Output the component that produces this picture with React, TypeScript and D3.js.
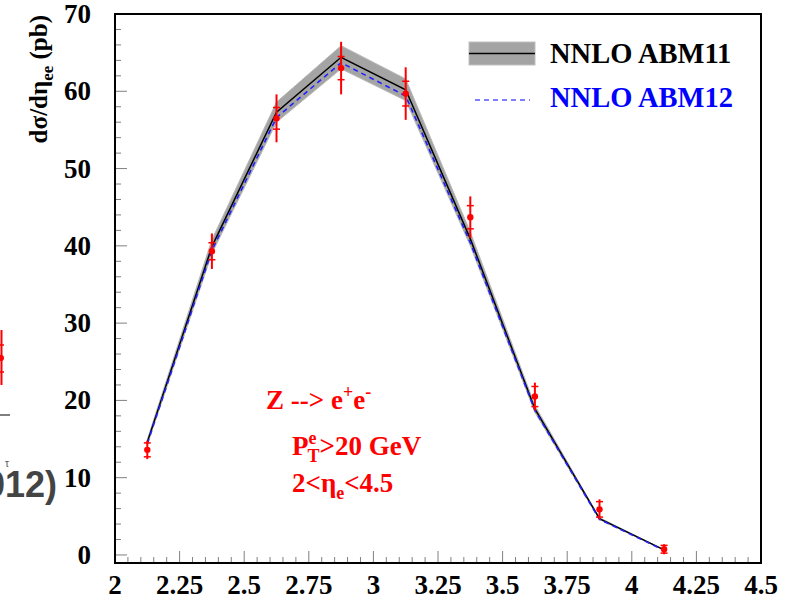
import React from "react";
import * as d3 from "d3";

const etaCenters = [2.125, 2.375, 2.625, 2.875, 3.125, 3.375, 3.625, 3.875, 4.125];
const abm11 = [14.6, 39.9, 57.3, 64.4, 60.2, 40.9, 18.9, 4.7, 0.65];
const abm11Err = [0.35, 0.9, 1.3, 1.5, 1.4, 0.9, 0.45, 0.12, 0.03];
const abm12 = [14.4, 39.4, 56.6, 63.7, 59.4, 40.4, 18.7, 4.6, 0.6];
const dataVals = [13.6, 39.3, 56.5, 63.0, 59.7, 43.7, 20.5, 5.9, 0.74];
const statErr = [0.9, 1.1, 1.4, 1.5, 1.6, 1.5, 1.3, 1.0, 0.5];
const totErr = [1.2, 2.3, 3.1, 3.4, 3.4, 2.7, 1.8, 1.3, 0.65];
const xTickLabels = ["2", "2.25", "2.5", "2.75", "3", "3.25", "3.5", "3.75", "4", "4.25", "4.5"];
const yTickLabels = ["0", "10", "20", "30", "40", "50", "60", "70"];

const FL = 115, FR = 761, FT = 14, FB = 563;
const serif = "'Liberation Serif', 'Times New Roman', serif";

export default function App() {
  const x = d3.scaleLinear().domain([2, 4.5]).range([FL, FR]);
  const y = d3.scaleLinear().domain([-1.04, 70]).range([FB, FT]);

  const line = d3.line<number>().x((_, i) => x(etaCenters[i])).y((d) => y(d));
  const area = d3
    .area<number>()
    .x((_, i) => x(etaCenters[i]))
    .y0((d, i) => y(d - abm11Err[i]))
    .y1((d, i) => y(d + abm11Err[i]));

  const xMinor = d3.range(0, 51).map((i) => 2 + i * 0.05);
  const yMinor = d3.range(0, 36).map((i) => i * 2);

  return (
    <svg width={794} height={602} style={{ position: "absolute", left: 0, top: 0, background: "#fff" }}>
      {/* fragments of neighbouring figure at left edge */}
      <g>
        <line x1={1.5} x2={1.5} y1={330} y2={385} stroke="#ff0000" strokeWidth={2} />
        <line x1={-2} x2={4} y1={345} y2={345} stroke="#ff0000" strokeWidth={1.5} />
        <line x1={-2} x2={4} y1={372} y2={372} stroke="#ff0000" strokeWidth={1.5} />
        <circle cx={1} cy={358} r={3} fill="#ff0000" />
        <line x1={0} x2={10} y1={415} y2={415} stroke="#555" strokeWidth={1.5} />
        <text x={57} y={497} textAnchor="end" fontFamily="'Liberation Sans', Arial, sans-serif" fontWeight="bold" fontSize={36} fill="#444">(2012)</text>
        <text x={5} y={467} fontFamily="'Liberation Sans', Arial, sans-serif" fontSize={10} fill="#555">τ</text>
      </g>

      {/* ticks */}
      <g stroke="#808080" strokeWidth={1}>
        {xMinor.map((v, i) => {
          const major = i % 5 === 0;
          return <line key={"xt" + i} x1={x(v)} x2={x(v)} y1={FB} y2={FB - (major ? 12 : 6)} />;
        })}
        {yMinor.map((v, i) => {
          const major = i % 5 === 0;
          return <line key={"yt" + i} x1={FL} x2={FL + (major ? 12 : 6)} y1={y(v)} y2={y(v)} />;
        })}
      </g>

      {/* band */}
      <path d={area(abm11) || ""} fill="#a4a4a4" stroke="#b8b8b8" strokeWidth={1} />
      <path d={line(abm11) || ""} fill="none" stroke="#000" strokeWidth={1.5} />
      <path d={line(abm12) || ""} fill="none" stroke="#2222ff" strokeWidth={1.6} strokeDasharray="5,4" />

      {/* data */}
      <g stroke="#ff0000" fill="#ff0000">
        {dataVals.map((v, i) => {
          const cx = x(etaCenters[i]);
          return (
            <g key={"d" + i}>
              <line x1={cx} x2={cx} y1={y(v - totErr[i])} y2={y(v + totErr[i])} strokeWidth={2} />
              <line x1={cx - 3.5} x2={cx + 3.5} y1={y(v - statErr[i])} y2={y(v - statErr[i])} strokeWidth={1.5} />
              <line x1={cx - 3.5} x2={cx + 3.5} y1={y(v + statErr[i])} y2={y(v + statErr[i])} strokeWidth={1.5} />
              <circle cx={cx} cy={y(v)} r={3.2} stroke="none" />
            </g>
          );
        })}
      </g>

      {/* frame */}
      <rect x={FL} y={FT} width={FR - FL} height={FB - FT} fill="none" stroke="#000" strokeWidth={2} />

      {/* tick labels */}
      <g fontFamily={serif} fontWeight="bold" fontSize={27} fill="#000">
        {xTickLabels.map((t) => (
          <text key={"xl" + t} x={x(+t)} y={594} textAnchor="middle">{t}</text>
        ))}
        {yTickLabels.map((t) => (
          <text key={"yl" + t} x={91} y={y(+t) + 9} textAnchor="end">{t}</text>
        ))}
      </g>

      {/* y title */}
      <text transform="translate(47,15) rotate(-90)" textAnchor="end" fontFamily={serif} fontWeight="bold" fontSize={25} fill="#000">
        dσ/dη<tspan fontSize={17} dy={6}>ee</tspan><tspan dy={-6}> (pb)</tspan>
      </text>

      {/* legend */}
      <rect x={469} y={42} width={66} height={23} fill="#a4a4a4" stroke="#c0c0c0" strokeWidth={1} />
      <line x1={469} x2={535} y1={53.5} y2={53.5} stroke="#000" strokeWidth={1.5} />
      <text x={550} y={63} fontFamily={serif} fontWeight="bold" fontSize={28.5} fill="#000">NNLO ABM11</text>
      <line x1={475} x2={530} y1={100} y2={100} stroke="#5555ff" strokeWidth={1.5} strokeDasharray="5,4" />
      <text x={550} y={107} fontFamily={serif} fontWeight="bold" fontSize={28.5} fill="#0000ff">NNLO ABM12</text>

      {/* annotation */}
      <g fontFamily={serif} fontWeight="bold" fontSize={27} fill="#ff0000">
        <text x={266} y={409}>
          Z --&gt; e<tspan fontSize={18} dy={-11}>+</tspan><tspan dy={11}>e</tspan><tspan fontSize={18} dy={-11}>-</tspan>
        </text>
        <text x={292} y={455}>
          P<tspan fontSize={18} dy={-11}>e</tspan><tspan fontSize={18} dx={-9} dy={18}>T</tspan><tspan dy={-7}>&gt;20 GeV</tspan>
        </text>
        <text x={292} y={492}>
          2&lt;η<tspan fontSize={18} dy={7}>e</tspan><tspan dy={-7}>&lt;4.5</tspan>
        </text>
      </g>
    </svg>
  );
}
